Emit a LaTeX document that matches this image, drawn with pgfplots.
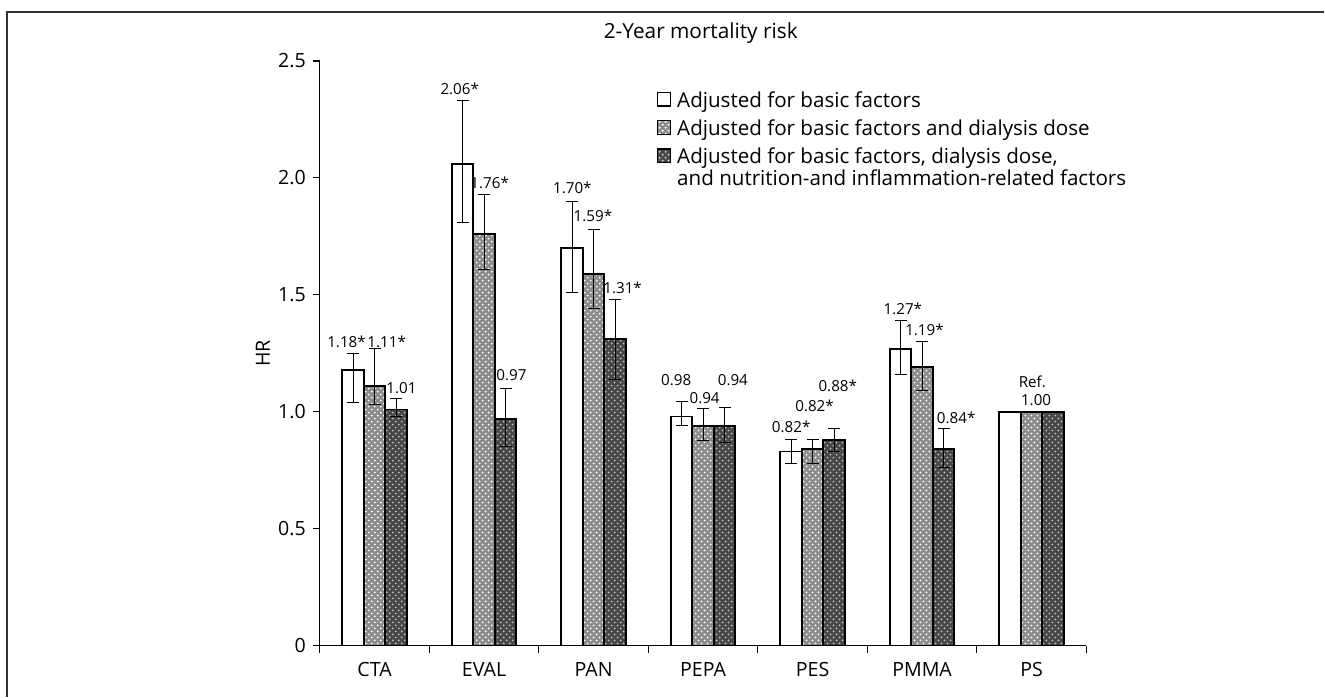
\documentclass[border=0pt]{standalone}
\usepackage{fontspec}
\setmainfont{Open Sans}
\usepackage{pgfplots}
\usepackage{pgfplotstable}
\pgfplotsset{compat=1.18}
\usetikzlibrary{patterns}

% x: category index, y: HR, ep/em: upper/lower error
\pgfplotstableread{
x y ep em
0 1.18 0.07 0.14
1 2.06 0.27 0.25
2 1.70 0.20 0.19
3 0.98 0.065 0.04
4 0.83 0.05 0.05
5 1.27 0.12 0.11
6 1.00 0 0
}\basic
\pgfplotstableread{
x y ep em
0 1.11 0.16 0.08
1 1.76 0.17 0.15
2 1.59 0.19 0.15
3 0.94 0.075 0.065
4 0.84 0.04 0.06
5 1.19 0.11 0.10
6 1.00 0 0
}\dose
\pgfplotstableread{
x y ep em
0 1.01 0.045 0.03
1 0.97 0.13 0.12
2 1.31 0.17 0.17
3 0.94 0.08 0.07
4 0.88 0.05 0.05
5 0.84 0.09 0.08
6 1.00 0 0
}\nutr

\newcommand{\ticksz}{\fontsize{9.8}{11}\selectfont}
\newcommand{\valsz}{\fontsize{7.6}{9}\selectfont}

\pgfplotsset{
  errs/.style={error bars/.cd, y dir=both, y explicit,
    error bar style={line width=0.5pt, black, solid},
    error mark options={rotate=90, mark size=3pt, line width=0.5pt, black},
    /pgfplots/.cd},
}

\begin{document}
\begin{tikzpicture}
\path (0,0) rectangle (662.5pt,348.5pt);
\draw[line width=0.8pt, black!80] (3.5pt,0pt) -- (3.5pt,342.5pt) -- (662.5pt,342.5pt);
\begin{axis}[
  at={(160pt,25.5pt)}, anchor=south west,
  scale only axis, width=383.5pt, height=292.5pt,
  xmin=-0.5, xmax=6.5, ymin=0, ymax=2.5,
  ybar=0pt, bar width=10.75pt,
  axis x line*=bottom, axis y line*=left,
  axis line style={line width=0.6pt},
  xtick={0,...,6}, xticklabels={CTA,EVAL,PAN,PEPA,PES,PMMA,PS},
  major x tick style={draw=none},
  minor xtick={-0.5,0.5,...,6.5},
  ytick={0,0.5,...,2.5}, yticklabels={0,0.5,1.0,1.5,2.0,2.5},
  tick align=outside, major tick length=3.5pt, minor tick length=3.5pt,
  tick style={line width=0.6pt, black},
  ticklabel style={font=\ticksz},
  xticklabel style={yshift=-1.5pt},
  /pgf/number format/assume math mode=true,
  ylabel={HR},
  every axis y label/.style={at={(axis description cs:0,0.5)}, xshift=-28.5pt, rotate=90, anchor=center, font=\ticksz},
  title={2-Year mortality risk},
  title style={at={(axis description cs:0.497,1)}, anchor=center, yshift=8pt, font=\fontsize{10.4}{12}\selectfont},
  legend cell align=left,
  legend style={at={(axis description cs:0.4394,0.947)}, anchor=north west,
    draw=none, fill=none, inner sep=0pt, outer sep=0pt,
    row sep=4.7pt, column sep=3pt,
    nodes={inner sep=0pt, align=left, font=\fontsize{10.3}{10.6}\selectfont}},
]
\addplot[draw=black, line width=0.9pt, fill=white,
  legend image code/.code={\draw[line width=0.6pt, fill=white] (0pt,-2.35pt) rectangle (6.7pt,4.35pt);}, errs]
  table[x=x, y=y, y error plus=ep, y error minus=em]{\basic};
\addplot[draw=black, line width=0.9pt, fill=black!45, postaction={pattern=crosshatch dots, pattern color=white},
  legend image code/.code={\draw[line width=0.6pt, fill=black!45, postaction={pattern=crosshatch dots, pattern color=white}] (0pt,-2.35pt) rectangle (6.7pt,4.35pt);}, errs]
  table[x=x, y=y, y error plus=ep, y error minus=em]{\dose};
\addplot[draw=black, line width=0.9pt, fill=black!72, postaction={pattern=crosshatch dots, pattern color=black!25},
  legend image code/.code={\draw[line width=0.6pt, fill=black!72, postaction={pattern=crosshatch dots, pattern color=black!25}] (0pt,2.95pt) rectangle (6.7pt,9.65pt);}, errs]
  table[x=x, y=y, y error plus=ep, y error minus=em]{\nutr};
\legend{Adjusted for basic factors, Adjusted for basic factors and dialysis dose,
  {Adjusted for basic factors, dialysis dose,\\and nutrition-and inflammation-related factors}}

\begin{scope}[every node/.style={font=\valsz, inner sep=0pt}]
\node at (axis cs:-0.256,1.300) {1.18*};
\node at (axis cs:0.111,1.300) {1.11*};
\node at (axis cs:0.246,1.103) {1.01};
\node at (axis cs:0.778,2.380) {2.06*};
\node at (axis cs:1.051,1.979) {1.76*};
\node at (axis cs:1.250,1.158) {0.97};
\node at (axis cs:1.806,1.956) {1.70*};
\node at (axis cs:1.994,1.838) {1.59*};
\node at (axis cs:2.265,1.529) {1.31*};
\node at (axis cs:2.755,1.137) {0.98};
\node at (axis cs:3.014,1.059) {0.94};
\node at (axis cs:3.272,1.137) {0.94};
\node at (axis cs:3.805,0.935) {0.82*};
\node at (axis cs:4.018,1.026) {0.82*};
\node at (axis cs:4.230,1.111) {0.88*};
\node at (axis cs:4.824,1.439) {1.27*};
\node at (axis cs:5.022,1.350) {1.19*};
\node at (axis cs:5.311,0.973) {0.84*};
\node at (axis cs:6.007,1.129) {Ref.};
\node at (axis cs:6.041,1.048) {1.00};
\end{scope}
\end{axis}
\end{tikzpicture}
\end{document}
